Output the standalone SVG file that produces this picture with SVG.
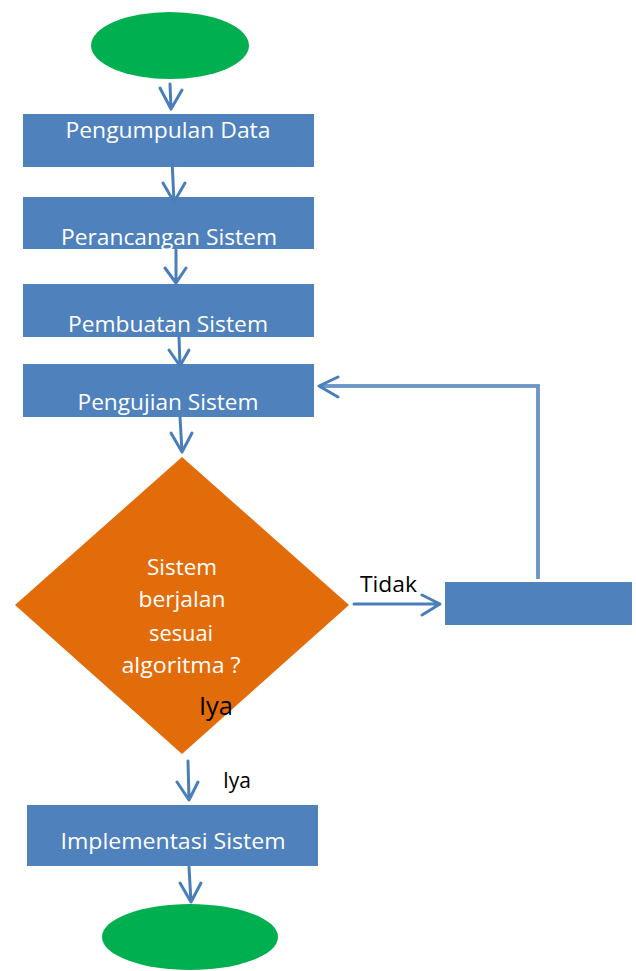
<svg xmlns="http://www.w3.org/2000/svg" width="636" height="971" viewBox="0 0 636 971">
<style>
.box{fill:#4f81bd}
.term{fill:#00b050}
.dec{fill:#e36c0a}
.lbl{font-family:"Open Sans","Liberation Sans",sans-serif;font-size:21px;fill:#ffffff;text-anchor:middle}
.dl{font-size:22px}
.blk{font-family:"Open Sans","Liberation Sans",sans-serif;fill:#000000}
.ln{fill:none;stroke:#4a7ebb;stroke-width:3;stroke-linecap:round;stroke-linejoin:round}
</style>
<rect width="636" height="971" fill="#ffffff"/>
<g id="start"><ellipse class="term" cx="170" cy="45.5" rx="79" ry="33.5"/></g>
<g id="pengumpulan"><rect class="box" x="23" y="114" width="291" height="53"/><text class="lbl" x="168" y="138" textLength="205" lengthAdjust="spacingAndGlyphs">Pengumpulan Data</text></g>
<g id="perancangan"><rect class="box" x="23" y="197" width="291" height="52"/><text class="lbl" x="169" y="245" textLength="216" lengthAdjust="spacingAndGlyphs">Perancangan Sistem</text></g>
<g id="pembuatan"><rect class="box" x="23" y="284" width="291" height="53"/><text class="lbl" x="168" y="332" textLength="200" lengthAdjust="spacingAndGlyphs">Pembuatan Sistem</text></g>
<g id="pengujian"><rect class="box" x="23" y="364" width="291" height="53"/><text class="lbl" x="168" y="410" textLength="181" lengthAdjust="spacingAndGlyphs">Pengujian Sistem</text></g>
<g id="keputusan"><polygon class="dec" points="182,457 349,605 182,754 15,605"/>
<text class="lbl dl" x="182" y="575" textLength="70" lengthAdjust="spacingAndGlyphs">Sistem</text>
<text class="lbl dl" x="182" y="607" textLength="87" lengthAdjust="spacingAndGlyphs">berjalan</text>
<text class="lbl dl" x="181" y="641" textLength="64" lengthAdjust="spacingAndGlyphs">sesuai</text>
<text class="lbl dl" x="181" y="673" textLength="119" lengthAdjust="spacingAndGlyphs">algoritma ?</text>
<text class="blk" x="199" y="715" font-size="26" textLength="34" lengthAdjust="spacingAndGlyphs">Iya</text></g>
<g id="perbaikan"><rect class="box" x="445" y="582" width="187" height="43"/></g>
<g id="implementasi"><rect class="box" x="27" y="805" width="291" height="61"/><text class="lbl" x="173" y="849" textLength="225" lengthAdjust="spacingAndGlyphs">Implementasi Sistem</text></g>
<g id="end"><ellipse class="term" cx="190" cy="937" rx="88" ry="33"/></g>
<g id="connectors">
<path class="ln" d="M170,84 L171,109 M160,88 L171,109 L182,90"/>
<path class="ln" d="M172,160 L174,202 M163,183 L174,202 L185,183"/>
<path class="ln" d="M176,250 L176,283 M165,268 L176,283 L186,268"/>
<path class="ln" d="M179,337 L180,366 M169,350 L180,366 L189,350"/>
<path class="ln" d="M180,417 L182,452 M171,433 L182,452 L192,433"/>
<path class="ln" d="M354,604 L440,604 M422,595 L440,604 L422,615"/>
<path d="M538,579 L538,386 L320,386" fill="none" stroke="#4a7ebb" stroke-width="3.5"/>
<path d="M538,579 L538,386 L320,386" fill="none" stroke="#9fbbe0" stroke-width="0.8"/>
<path class="ln" d="M338,377 L319,386 L338,397"/>
<path class="ln" d="M188,761 L189,800 M177,782 L189,800 L198,782"/>
<path class="ln" d="M189,867 L191,902 M180,883 L191,902 L201,883"/>
</g>
<text class="blk" x="360" y="592" font-size="21" textLength="57" lengthAdjust="spacingAndGlyphs">Tidak</text>
<text class="blk" x="223" y="788" font-size="21" textLength="28" lengthAdjust="spacingAndGlyphs">Iya</text>
</svg>
